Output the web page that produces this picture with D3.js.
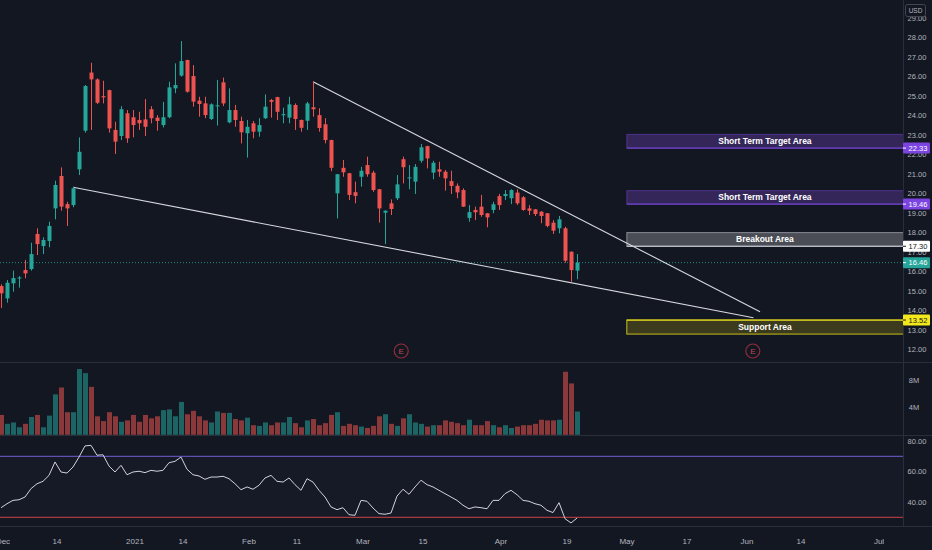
<!DOCTYPE html>
<html>
<head>
<meta charset="utf-8">
<script src="https://cdn.jsdelivr.net/npm/d3@7"></script>
<style>
html,body{margin:0;padding:0;background:#131722;}
svg{display:block;font-family:"Liberation Sans",Arial,sans-serif;}
</style>
</head>
<body>
<svg id="chart" width="932" height="550"></svg>
<script>
// daily candles, Dec 1 2020 .. Apr 21 2021 (index = trading day)
const opens = [15.26,14.63,15.40,15.65,16.08,16.13,17.93,17.31,17.57,19.24,
  20.90,19.46,19.41,21.24,23.22,26.20,25.85,24.99,25.30,23.26,
  22.95,24.11,23.91,23.77,23.80,24.32,23.89,23.51,23.91,25.39,
  26.04,26.84,26.02,24.76,24.62,23.82,24.48,25.70,23.65,24.28,
  23.72,23.09,23.60,23.17,23.86,24.79,24.94,24.01,23.89,24.54,
  23.77,23.73,24.42,24.02,23.55,22.74,20.01,21.32,21.04,20.07,
  20.86,21.46,21.07,20.22,19.02,19.50,19.76,21.76,20.79,20.61,
  21.68,22.43,21.07,21.24,21.12,20.64,20.40,20.18,18.75,19.16,
  19.33,18.99,19.16,19.87,19.87,19.76,20.05,19.81,19.24,19.19,
  19.07,18.99,18.51,18.22,18.22,17.02,16.05];
const highs = [15.35,15.57,16.05,15.77,16.60,17.48,18.22,17.76,18.56,20.66,
  21.34,19.58,20.35,22.88,25.56,26.70,25.90,25.78,25.32,23.68,
  24.48,24.28,24.28,24.19,24.84,24.48,24.02,24.70,25.73,26.67,
  27.81,26.86,26.58,24.96,24.96,24.62,25.82,25.94,25.39,24.54,
  23.94,23.77,23.72,23.86,25.08,24.85,24.96,24.40,24.96,24.62,
  23.79,24.70,25.73,24.37,23.86,22.76,21.00,21.72,21.06,20.61,
  21.37,21.89,21.17,20.24,19.14,19.70,20.95,21.89,21.46,21.51,
  22.54,22.45,21.68,21.63,21.21,21.17,20.52,20.27,19.41,19.33,
  19.93,19.00,19.58,19.98,20.18,20.22,20.22,19.87,19.41,19.21,
  19.10,19.00,18.64,18.85,18.30,17.04,16.90];
const lows = [14.14,14.41,14.97,15.18,15.66,16.05,16.85,16.90,17.25,18.68,
  19.12,18.34,19.30,20.95,23.12,23.26,24.59,24.62,23.12,22.03,
  22.74,22.60,22.88,23.26,22.95,23.60,23.22,23.39,23.86,25.14,
  25.99,25.17,24.45,23.94,23.86,23.77,23.48,24.48,23.60,23.42,
  22.57,21.84,22.83,22.91,23.82,23.89,23.77,23.60,23.60,23.26,
  23.17,23.26,23.94,23.17,22.57,21.15,18.73,20.86,19.67,19.50,
  20.35,20.86,20.09,18.51,17.41,18.90,19.67,20.52,20.22,19.98,
  21.58,21.29,20.73,20.86,20.15,19.98,19.76,19.31,18.56,18.64,
  18.81,18.27,18.99,19.16,19.67,19.46,19.41,19.12,18.90,18.85,
  18.48,18.27,17.93,17.96,16.46,15.48,15.61];
const closes = [14.89,15.43,15.67,15.70,15.91,16.90,17.41,17.62,18.34,20.44,
  19.33,19.24,20.27,22.14,25.51,25.85,24.65,24.93,23.34,22.66,
  24.32,22.83,23.51,23.60,23.42,23.86,23.72,23.91,25.44,25.56,
  26.79,25.22,24.71,24.59,24.02,24.57,24.52,24.62,24.28,23.77,
  23.14,23.42,23.17,23.51,24.45,24.70,24.19,24.07,24.57,23.82,
  23.37,24.62,24.32,23.36,22.74,21.32,20.99,21.09,19.93,19.88,
  21.17,20.99,20.18,19.24,19.12,19.21,20.47,21.35,20.83,21.37,
  22.37,21.80,21.58,21.12,20.78,20.39,20.06,19.33,19.05,19.04,
  18.90,18.78,19.45,19.41,19.98,20.18,19.50,19.16,19.12,18.95,
  18.85,18.34,18.10,18.68,16.56,16.08,16.46];
// volume in millions
const volumes = [2.9,1.6,1.8,1.1,1.6,2.6,2.9,1.1,2.8,5.9,
  6.9,3.3,3.3,9.6,9.0,7.0,2.7,2.0,3.3,2.7,
  1.9,2.1,2.9,1.9,2.9,2.4,2.7,3.6,3.7,2.7,
  4.8,3.0,3.5,2.7,2.1,1.8,3.4,3.2,3.2,2.3,
  2.1,2.5,1.4,1.3,1.8,1.4,1.8,1.8,2.6,1.7,
  1.1,2.1,2.3,1.4,1.7,2.9,3.3,1.3,1.6,1.4,
  1.2,1.0,1.3,2.7,3.0,1.6,1.3,2.4,3.0,1.8,
  1.6,1.2,1.4,1.4,2.1,1.9,1.7,1.4,2.2,1.4,
  1.4,2.0,1.4,1.1,1.4,1.0,1.2,1.4,1.4,1.6,
  2.2,2.1,2.1,2.2,9.2,7.5,3.4];
const rsi = [36.3,38.9,41.1,41.5,43.3,48.8,52.0,53.6,57.5,66.3,
  59.7,59.0,63.0,69.5,76.8,77.2,70.7,71.0,63.6,59.7,
  64.1,57.9,59.7,60.2,59.3,60.8,60.2,60.8,65.8,66.7,
  69.5,61.5,57.9,57.1,54.9,56.4,56.4,56.9,55.3,52.0,
  48.1,49.9,48.4,51.0,55.8,57.5,53.6,53.1,55.8,51.4,
  47.7,55.3,53.1,47.7,43.3,36.8,35.0,36.3,31.7,31.3,
  41.1,40.5,36.1,32.4,32.0,32.8,43.9,48.4,45.1,49.9,
  54.3,51.4,49.9,47.7,45.5,43.3,41.1,37.9,35.6,36.8,
  36.3,35.6,41.1,41.1,45.5,47.7,44.8,41.1,40.5,38.9,
  37.9,34.6,33.1,39.6,29.1,26.3,29.5];

const holidays = ["2020-12-25","2021-01-01","2021-01-18","2021-02-15","2021-04-02","2021-05-31"];
const timeTicks = [["2020-12-01","Dec"],["2020-12-14","14"],["2021-01-04","2021"],["2021-01-14","14"],
  ["2021-02-01","Feb"],["2021-02-11","11"],["2021-03-01","Mar"],["2021-03-15","15"],
  ["2021-04-01","Apr"],["2021-04-19","19"],["2021-05-03","May"],["2021-05-17","17"],
  ["2021-06-01","Jun"],["2021-06-14","14"],["2021-07-01","Jul"]];
const priceTicks = [12,13,14,15,16,17,18,19,20,21,22,23,24,25,26,27,28,29];
const volTicks = [4,8];
const rsiTicks = [40,60,80];
const rsiBands = [70,30];

// drawn zones (start on trading-day index, run to the right edge)
const zoneStart = 104.3;
const zoneNames = ["Short Term Target Area","Short Term Target Area","Breakout Area","Support Area"];
const zoneTops = [23.03,20.15,18.00,13.52];
const zoneBottoms = [22.33,19.46,17.30,12.80];
const zoneTags = [22.33,19.46,17.30,13.52];
const zoneKinds = ["target","target","breakout","support"];
// wedge lines: [index, price]
const trendUpper = [[52,25.73],[126.5,13.95]];
const trendLower = [[12,20.32],[125.4,13.64]];
const earnings = [66.7,125.3];

const W = 932, H = 550, axisX = 903;
const mainBottom = 362, volBottom = 435, rsiBottom = 526;
const C = {bg:"#131722", up:"#26a69a", down:"#ef5350", text:"#b2b5be", sep:"#2a2e39"};

// trading day calendar
const days = [];
const dt = new Date(Date.UTC(2020,11,1));
while (days.length < 152) {
  const s = dt.toISOString().slice(0,10), w = dt.getUTCDay();
  if (w > 0 && w < 6 && !holidays.includes(s)) days.push(s);
  dt.setUTCDate(dt.getUTCDate()+1);
}

const candles = opens.map((o,i) => ({i, o, h:highs[i], l:lows[i], c:closes[i], v:volumes[i]}));

const x = d3.scaleLinear().domain([0,150.33]).range([1,axisX]);
const y = d3.scaleLinear().domain([12,29]).range([349.7,17.9]);
const yV = d3.scaleLinear().domain([0,8]).range([434.8,380]);
const yR = d3.scaleLinear().domain([30,70]).range([517.3,456.3]);

const svg = d3.select("#chart");
svg.append("rect").attr("width",W).attr("height",H).attr("fill",C.bg);

const defs = svg.append("defs");
defs.append("clipPath").attr("id","clipMain").append("rect").attr("width",axisX).attr("height",mainBottom);
defs.append("clipPath").attr("id","clipVol").append("rect").attr("y",mainBottom).attr("width",axisX).attr("height",volBottom-mainBottom);
defs.append("clipPath").attr("id","clipRsi").append("rect").attr("y",volBottom).attr("width",axisX).attr("height",rsiBottom-volBottom);

// pane separators
svg.append("g").selectAll("line").data([mainBottom,volBottom,rsiBottom]).join("line")
  .attr("x1",0).attr("x2",W).attr("y1",d=>d+0.5).attr("y2",d=>d+0.5)
  .attr("stroke",C.sep);
svg.append("line").attr("x1",axisX+0.5).attr("x2",axisX+0.5).attr("y1",0).attr("y2",rsiBottom)
  .attr("stroke",C.sep);

// ---------- main pane
const main = svg.append("g").attr("clip-path","url(#clipMain)");

const zoneStyle = {
  target:{fill:"#35265a", stroke:"#6f42c9", label:"#7b44e0", labelText:"#fff"},
  breakout:{fill:"#4a4d55", stroke:"#d1d4dc", label:"#ffffff", labelText:"#131722"},
  support:{fill:"#3c3b1d", stroke:"#d9cf1c", label:"#f2e81c", labelText:"#131722"}
};
const zones = zoneNames.map((n,k) => ({name:n, top:zoneTops[k], bottom:zoneBottoms[k], tag:zoneTags[k], kind:zoneKinds[k]}));

const zg = main.append("g").selectAll("g").data(zones).join("g");
zg.append("rect")
  .attr("x",x(zoneStart)).attr("y",d=>y(d.top))
  .attr("width",axisX-x(zoneStart)+2).attr("height",d=>y(d.bottom)-y(d.top))
  .attr("fill",d=>zoneStyle[d.kind].fill)
  .attr("stroke",d=>zoneStyle[d.kind].stroke).attr("stroke-opacity",d=>d.kind==="support"?0.9:0.55);
zg.append("line")
  .attr("x1",x(zoneStart)).attr("x2",axisX).attr("y1",d=>y(d.tag)).attr("y2",d=>y(d.tag))
  .attr("stroke",d=>zoneStyle[d.kind].stroke).attr("stroke-width",1.2);
zg.append("text")
  .attr("x",(x(zoneStart)+axisX)/2).attr("y",d=>(y(d.top)+y(d.bottom))/2)
  .attr("dy","0.35em").attr("text-anchor","middle")
  .attr("fill","#ffffff").attr("font-size",8.5).attr("font-weight","bold")
  .text(d=>d.name);

// last price dotted line
const last = candles[candles.length-1];
main.append("line")
  .attr("x1",0).attr("x2",axisX).attr("y1",y(last.c)).attr("y2",y(last.c))
  .attr("stroke",C.up).attr("stroke-dasharray","1,2").attr("stroke-opacity",0.8);

// wedge
main.append("g").selectAll("path").data([trendUpper,trendLower]).join("path")
  .attr("d",d3.line().x(d=>x(d[0])).y(d=>y(d[1])))
  .attr("fill","none").attr("stroke","#d6d8de").attr("stroke-width",1.1);

// candles
const cg = main.append("g").selectAll("g").data(candles).join("g")
  .attr("stroke",d=>d.c>=d.o?C.up:C.down).attr("fill",d=>d.c>=d.o?C.up:C.down);
cg.append("line")
  .attr("x1",d=>Math.round(x(d.i))+0.5).attr("x2",d=>Math.round(x(d.i))+0.5)
  .attr("y1",d=>y(d.h)).attr("y2",d=>y(d.l));
cg.append("rect")
  .attr("x",d=>Math.round(x(d.i))-1.5).attr("width",4)
  .attr("y",d=>y(Math.max(d.o,d.c)))
  .attr("height",d=>Math.max(1,Math.abs(y(d.o)-y(d.c))))
  .attr("stroke","none");

// earnings markers
const eg = main.append("g").selectAll("g").data(earnings).join("g")
  .attr("transform",d=>`translate(${x(d)},${mainBottom-11})`);
eg.append("circle").attr("r",7).attr("fill",C.bg).attr("stroke","#8e2f3a").attr("stroke-width",1.2);
eg.append("text").attr("text-anchor","middle").attr("dy","0.35em")
  .attr("fill","#c2474f").attr("font-size",8).text("E");

// ---------- volume pane
svg.append("g").attr("clip-path","url(#clipVol)")
  .selectAll("rect").data(candles).join("rect")
  .attr("x",d=>Math.round(x(d.i))-2).attr("width",5)
  .attr("y",d=>yV(d.v)).attr("height",d=>yV(0)-yV(d.v))
  .attr("fill",d=>d.c>=d.o?C.up:C.down).attr("fill-opacity",0.55);

// ---------- RSI pane
const rg = svg.append("g").attr("clip-path","url(#clipRsi)");
rg.append("rect").attr("x",0).attr("width",axisX).attr("y",yR(70)).attr("height",yR(30)-yR(70))
  .attr("fill","#7e57c2").attr("fill-opacity",0.03);
rg.selectAll("line").data(rsiBands).join("line")
  .attr("x1",0).attr("x2",axisX).attr("y1",d=>yR(d)).attr("y2",d=>yR(d))
  .attr("stroke",d=>d===70?"#5e4fb0":"#a8393f").attr("stroke-width",1.2);
rg.append("path").datum(rsi)
  .attr("d",d3.line().x((d,i)=>x(i)).y(d=>yR(d)))
  .attr("fill","none").attr("stroke","#d1d4dc").attr("stroke-width",1);

// ---------- right axis
const ax = svg.append("g").attr("font-size",7.5).attr("fill",C.text).attr("text-anchor","middle");
ax.selectAll("text.p").data(priceTicks).join("text").attr("class","p")
  .attr("x",917).attr("y",d=>y(d)).attr("dy","0.35em").text(d=>d.toFixed(2));
ax.selectAll("text.v").data(volTicks).join("text").attr("class","v")
  .attr("x",914).attr("y",d=>yV(d)).attr("dy","0.35em").text(d=>d+"M");
ax.selectAll("text.r").data(rsiTicks).join("text").attr("class","r")
  .attr("x",917).attr("y",d=>yR(d)).attr("dy","0.35em").text(d=>d.toFixed(2));

// price labels on axis
const tags = zones.map(z => ({v:z.tag, bg:zoneStyle[z.kind].label, fg:zoneStyle[z.kind].labelText}));
tags.push({v:last.c, bg:C.up, fg:"#ffffff"});
const tg = svg.append("g").selectAll("g").data(tags).join("g")
  .attr("transform",d=>`translate(${axisX},${y(d.v)})`);
tg.append("rect").attr("x",0).attr("y",-5.5).attr("width",27).attr("height",11).attr("rx",1).attr("fill",d=>d.bg);
tg.append("line").attr("x1",0).attr("x2",3).attr("stroke",d=>d.fg);
tg.append("text").attr("x",15).attr("dy","0.35em").attr("text-anchor","middle")
  .attr("font-size",7.5).attr("fill",d=>d.fg).text(d=>d.v.toFixed(2));

// currency tag
svg.append("rect").attr("x",905.5).attr("y",4.5).attr("width",20).attr("height",12).attr("rx",2)
  .attr("fill",C.bg).attr("stroke","#434651");
svg.append("text").attr("x",915.5).attr("y",10.5).attr("dy","0.35em").attr("text-anchor","middle")
  .attr("font-size",6.5).attr("fill",C.text).text("USD");

// ---------- time axis
svg.append("g").selectAll("text").data(timeTicks).join("text")
  .attr("x",d=>x(days.indexOf(d[0]))+2).attr("y",541).attr("dy","0.35em")
  .attr("text-anchor","middle").attr("font-size",8).attr("fill",C.text)
  .text(d=>d[1]);
</script>
</body>
</html>
